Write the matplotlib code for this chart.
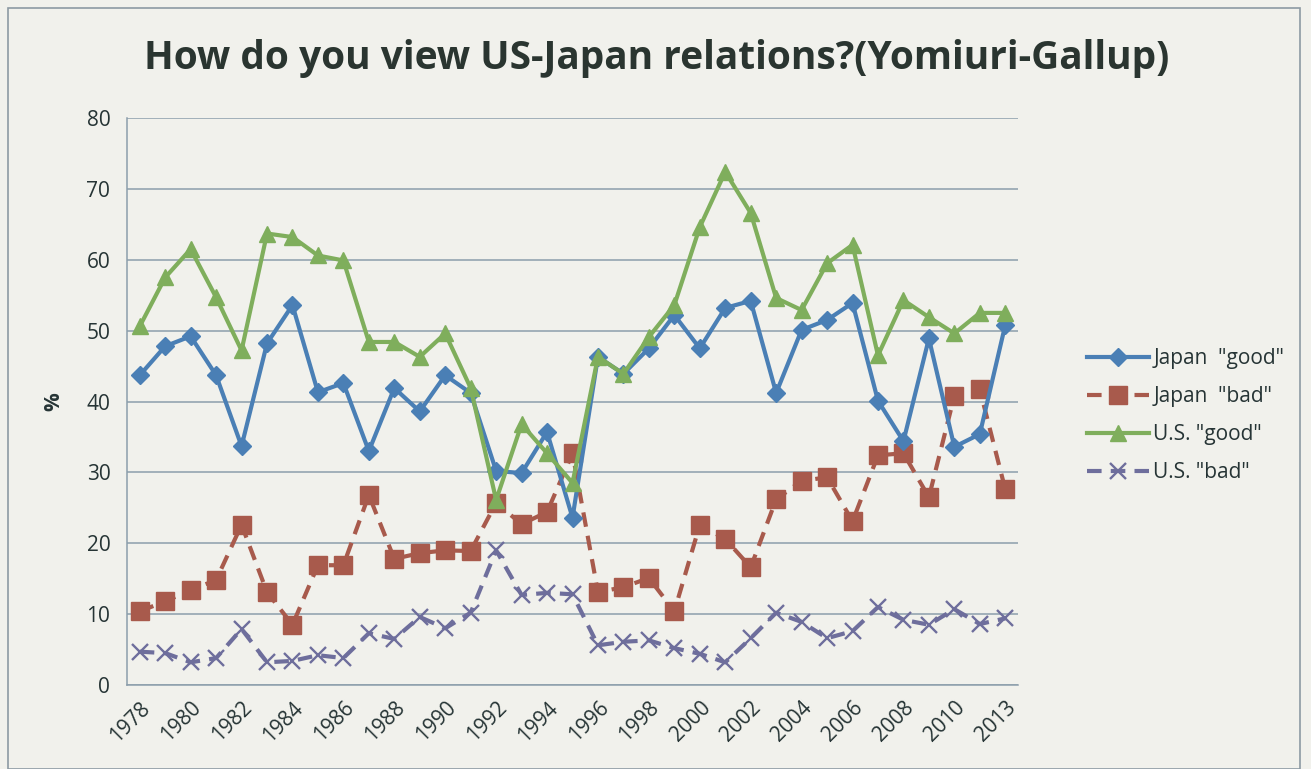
import matplotlib
matplotlib.use("Agg")
import matplotlib.pyplot as plt
from matplotlib.patches import Rectangle

years = [str(y) for y in range(1978, 2012)] + ["2013"]
tick_labels = [y if i % 2 == 0 else "" for i, y in enumerate(years)]

japan_good = [43.7, 47.8, 49.2, 43.7, 33.7, 48.2, 53.6, 41.3, 42.6, 33.0, 41.9, 38.6,
              43.7, 41.2, 30.2, 29.9, 35.7, 23.6, 46.3, 43.9, 47.5, 52.2, 47.5, 53.2,
              54.2, 41.2, 50.1, 51.5, 53.9, 40.1, 34.4, 48.9, 33.6, 35.4, 50.8]
japan_bad = [10.4, 11.8, 13.4, 14.8, 22.6, 13.1, 8.5, 16.9, 16.9, 26.8, 17.8, 18.6,
             19.0, 18.9, 25.7, 22.7, 24.4, 32.7, 13.1, 13.8, 15.1, 10.4, 22.6, 20.6,
             16.6, 26.2, 28.8, 29.3, 23.1, 32.4, 32.7, 26.5, 40.8, 41.7, 27.6]
us_good = [50.6, 57.5, 61.5, 54.7, 47.2, 63.7, 63.2, 60.6, 59.9, 48.4, 48.4, 46.3,
           49.6, 41.9, 26.1, 36.8, 32.7, 28.5, 46.3, 43.9, 49.1, 53.6, 64.6, 72.4,
           66.6, 54.6, 52.9, 59.5, 62.1, 46.5, 54.3, 51.9, 49.6, 52.5, 52.5]
us_bad = [4.7, 4.5, 3.2, 3.8, 7.9, 3.2, 3.4, 4.2, 3.8, 7.3, 6.5, 9.6,
          8.0, 10.2, 19.0, 12.7, 13.0, 12.8, 5.6, 6.1, 6.3, 5.2, 4.4, 3.2,
          6.6, 10.2, 8.9, 6.6, 7.6, 11.0, 9.2, 8.5, 10.7, 8.6, 9.4]

W, H = 1311, 769
bg = "#f1f1ec"
txt = "#263435"
fig = plt.figure(figsize=(W / 100, H / 100), dpi=100, facecolor=bg)

# outer chart frame
fig.patches.append(Rectangle((8 / W, 0), (1300 - 8) / W, (H - 8) / H,
                             transform=fig.transFigure, fill=False,
                             edgecolor="#8d9aa3", linewidth=1.2))

left, right, top, bottom = 127, 1018, 118, 685
ax = fig.add_axes([left / W, 1 - bottom / H, (right - left) / W, (bottom - top) / H])
ax.set_facecolor(bg)

x = list(range(len(years)))
c_blue = "#4a7fb5"
c_red = "#a85a4c"
c_green = "#7fae5c"
c_purple = "#6e6e9c"

ax.plot(x, japan_good, color=c_blue, lw=3.0, marker="D", ms=9,
        label='Japan  "good"', zorder=5)
ax.plot(x, japan_bad, color=c_red, lw=3.0, ls=(0, (3.5, 2.2)), marker="s", ms=13,
        label='Japan  "bad"', zorder=4)
ax.plot(x, us_good, color=c_green, lw=3.0, marker="^", ms=11,
        label='U.S. "good"', zorder=6)
ax.plot(x, us_bad, color=c_purple, lw=3.0, ls=(0, (3.5, 2.2)), marker="x", ms=12,
        mew=1.7, label='U.S. "bad"', zorder=3)

ax.set_xlim(-0.5, len(years) - 0.5)
ax.set_ylim(0, 80)
ax.set_yticks(range(0, 81, 10))
ax.yaxis.grid(True, color="#8c9eab", lw=1.1)
ax.set_axisbelow(True)
ax.set_xticks(x)
ax.set_xticklabels(tick_labels, rotation=45, ha="right", rotation_mode="anchor",
                   fontsize=15, family="Open Sans", color=txt)
ax.tick_params(axis="x", length=0, pad=9)
ax.tick_params(axis="y", length=0, labelsize=15, pad=12, labelcolor=txt)
for lab in ax.get_yticklabels():
    lab.set_family("Open Sans")
for s in ["top", "right"]:
    ax.spines[s].set_visible(False)
ax.spines["bottom"].set_color("#8c9eab")
ax.spines["left"].set_color("#8c9eab")
ax.spines["bottom"].set_linewidth(1.1)
ax.spines["left"].set_linewidth(1.1)

ax.set_ylabel("%", fontsize=15, family="Open Sans", rotation=90, labelpad=16,
              color=txt, fontweight="bold")

fig.text(657 / W, 1 - 58 / H, "How do you view US-Japan relations?(Yomiuri-Gallup)",
         ha="center", va="center", fontsize=28, fontweight="bold",
         family="Open Sans", color="#2a3530")

leg = ax.legend(loc="center left", bbox_to_anchor=((1068 - left) / (right - left), 0.475),
                frameon=False, handlelength=3.0, labelspacing=0.82,
                handletextpad=0.2, prop={"family": "Open Sans", "size": 15})
for t in leg.get_texts():
    t.set_color(txt)

fig.savefig("out.png", dpi=100, facecolor=bg)
